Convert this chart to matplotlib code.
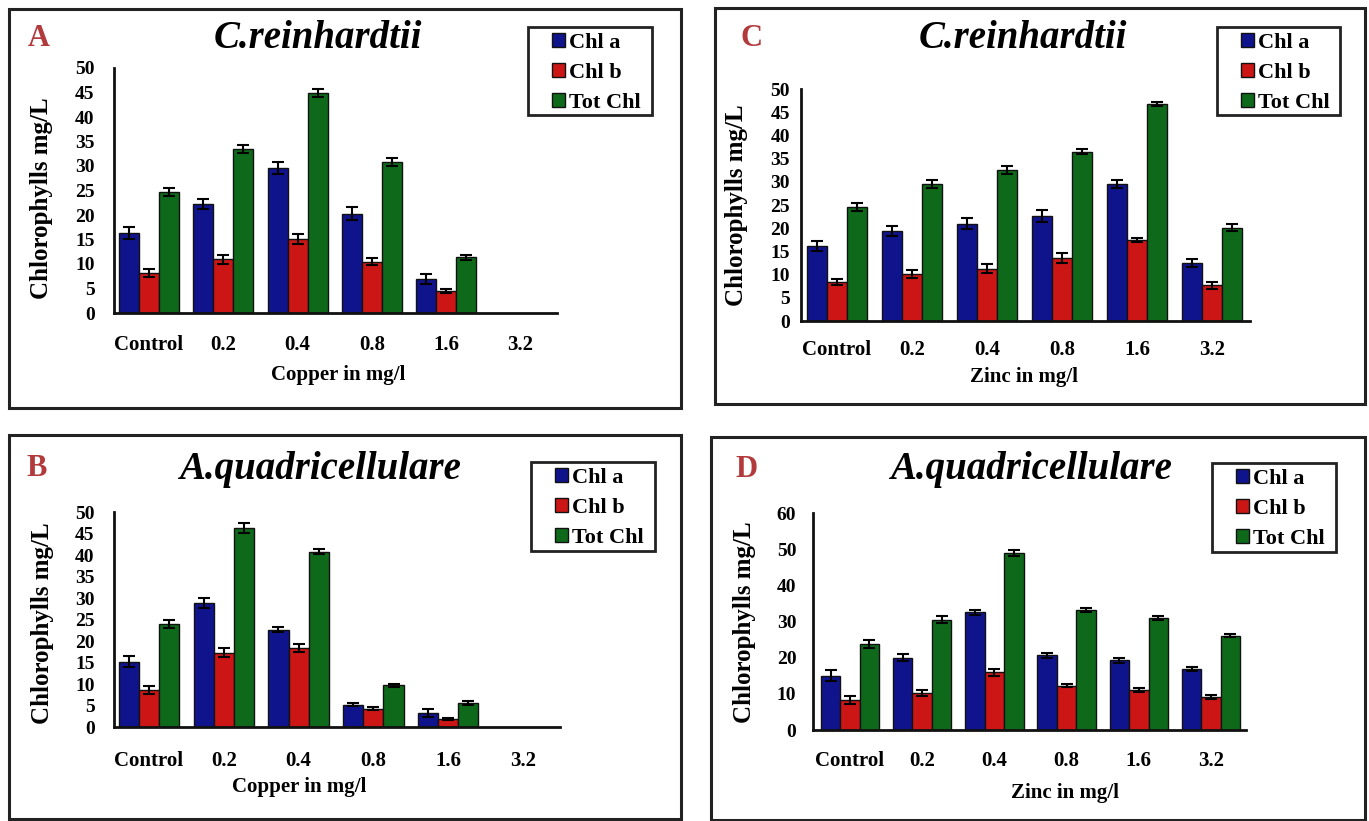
import matplotlib
matplotlib.use("Agg")
from matplotlib import pyplot as plt
from matplotlib.patches import Rectangle
import numpy as np

plt.rcParams['font.family'] = ['Liberation Serif', 'DejaVu Serif']
plt.rcParams['font.weight'] = 'bold'

categories = ['Control', '0.2', '0.4', '0.8', '1.6', '3.2']
series_names = ['Chl a', 'Chl b', 'Tot Chl']
colors = ['#10148c', '#cc1616', '#0e6a1a']

# A: C.reinhardtii, copper
a_chla = [16.3, 22.3, 29.6, 20.3, 6.9, 0]
a_chlb = [8.2, 11.0, 15.1, 10.5, 4.4, 0]
a_tot = [24.7, 33.5, 44.9, 30.8, 11.4, 0]
a_err = [[1.2, 1.0, 1.2, 1.3, 1.0, 0], [0.8, 0.9, 1.0, 0.8, 0.4, 0], [0.8, 0.8, 0.9, 0.8, 0.5, 0]]

# C: C.reinhardtii, zinc
c_chla = [16.1, 19.4, 21.0, 22.7, 29.5, 12.5]
c_chlb = [8.4, 10.1, 11.3, 13.6, 17.4, 7.7]
c_tot = [24.6, 29.5, 32.6, 36.5, 46.8, 20.1]
c_err = [[1.1, 1.1, 1.1, 1.3, 0.9, 0.8], [0.6, 0.8, 0.9, 1.0, 0.4, 0.7], [0.8, 0.8, 0.9, 0.6, 0.4, 0.8]]

# B: A.quadricellulare, copper
b_chla = [15.2, 28.9, 22.6, 5.2, 3.3, 0]
b_chlb = [8.6, 17.3, 18.3, 4.3, 1.9, 0]
b_tot = [24.0, 46.3, 40.8, 9.7, 5.6, 0]
b_err = [[1.2, 1.2, 0.6, 0.3, 1.0, 0], [1.0, 1.0, 0.9, 0.4, 0.3, 0], [1.0, 1.2, 0.6, 0.4, 0.5, 0]]

# D: A.quadricellulare, zinc
d_chla = [15.0, 20.0, 32.6, 20.6, 19.3, 16.8]
d_chlb = [8.3, 10.2, 16.0, 12.2, 11.1, 9.2]
d_tot = [23.8, 30.5, 48.9, 33.2, 30.9, 26.1]
d_err = [[1.5, 1.0, 0.7, 0.6, 0.7, 0.6], [1.0, 0.9, 1.0, 0.4, 0.6, 0.6], [1.0, 1.0, 0.9, 0.6, 0.6, 0.5]]

W, H = 1369, 821
fig = plt.figure(figsize=(W / 100, H / 100), dpi=100)


def fx(x):
    return x / W


def fy(y):
    return 1 - y / H


def frame(x0, y0, x1, y1, lw):
    fig.patches.append(Rectangle((fx(x0), fy(y1)), fx(x1 - x0), (y1 - y0) / H,
                                 transform=fig.transFigure, fill=False, edgecolor='#222222', linewidth=lw))


panels = [
    dict(letter='A', title='C.reinhardtii', xlabel='Copper in mg/l', data=[a_chla, a_chlb, a_tot], err=a_err,
         ax=(114, 557, 313, 68), ymax=50, ystep=5, box=(9, 9, 681, 408), lpos=(39, 38), tpos=(318, 38),
         ylpos=(42, 198), xlpos=(338, 375), leg=(528, 27, 652, 115), xpad=16, ypad=14, off=35, pitch=74.3),
    dict(letter='C', title='C.reinhardtii', xlabel='Zinc in mg/l', data=[c_chla, c_chlb, c_tot], err=c_err,
         ax=(801, 1250, 321, 89), ymax=50, ystep=5, box=(715, 8, 1365, 404), lpos=(752, 39), tpos=(1023, 39),
         ylpos=(736, 205), xlpos=(1024, 377), leg=(1217, 27, 1340, 115), xpad=14, ypad=8, off=36, pitch=75),
    dict(letter='B', title='A.quadricellulare', xlabel='Copper in mg/l', data=[b_chla, b_chlb, b_tot], err=b_err,
         ax=(114, 560, 727, 512), ymax=50, ystep=5, box=(9, 435, 681, 819), lpos=(37, 468), tpos=(320, 469),
         ylpos=(43, 623), xlpos=(299, 787), leg=(531, 462, 655, 551), xpad=17, ypad=14, off=35, pitch=74.8),
    dict(letter='D', title='A.quadricellulare', xlabel='Zinc in mg/l', data=[d_chla, d_chlb, d_tot], err=d_err,
         ax=(813, 1246, 730, 513), ymax=60, ystep=10, box=(711, 437, 1365, 820), lpos=(746, 469), tpos=(1031, 469),
         ylpos=(745, 622), xlpos=(1065, 793), leg=(1212, 463, 1336, 552), xpad=15, ypad=12, off=37, pitch=72.2),
]

bw = 0.27
x = np.arange(len(categories))

for p in panels:
    frame(*p['box'], 2.2)
    left, right, bottom, top = p['ax']
    ax = fig.add_axes([fx(left), fy(bottom), fx(right - left), (bottom - top) / H])
    for i, vals in enumerate(p['data']):
        v = np.array(vals, dtype=float)
        e = np.array(p['err'][i], dtype=float)
        v[v == 0] = np.nan  # no bar drawn where the value is zero
        e[np.isnan(v)] = np.nan
        ax.bar(x + (i - 1) * bw, v, bw, color=colors[i], edgecolor='#111111', linewidth=1,
               yerr=e, capsize=4, error_kw=dict(ecolor='black', elinewidth=1.5, capthick=1.5),
               label=series_names[i])
    off = p['off'] / p['pitch']
    ax.set_xlim(-off, -off + (right - left) / p['pitch'])
    ax.set_ylim(0, p['ymax'])
    ax.set_yticks(np.arange(0, p['ymax'] + 1, p['ystep']))
    ax.set_xticks(x)
    ax.set_xticklabels(categories, fontsize=15, fontweight='bold')
    ax.tick_params(axis='x', length=0, pad=p['xpad'])
    ax.tick_params(axis='y', length=0, pad=p['ypad'], labelsize=14)
    for lab in ax.get_yticklabels():
        lab.set_fontweight('bold')
    for s in ['top', 'right']:
        ax.spines[s].set_visible(False)
    for s in ['left', 'bottom']:
        ax.spines[s].set_linewidth(2)
        ax.spines[s].set_color('#111111')
    ax.patch.set_alpha(0)

    fig.text(fx(p['lpos'][0]), fy(p['lpos'][1]), p['letter'], color='#b23a3c', fontsize=22,
             fontweight='bold', ha='center', va='center')
    fig.text(fx(p['tpos'][0]), fy(p['tpos'][1]), p['title'], fontsize=28, fontweight='bold',
             fontstyle='italic', ha='center', va='center')
    fig.text(fx(p['ylpos'][0]), fy(p['ylpos'][1]), 'Chlorophylls mg/L', fontsize=18, fontweight='bold',
             rotation=90, ha='center', va='center')
    fig.text(fx(p['xlpos'][0]), fy(p['xlpos'][1]), p['xlabel'], fontsize=15, fontweight='bold',
             ha='center', va='center')

    lx0, ly0, lx1, ly1 = p['leg']
    frame(lx0, ly0, lx1, ly1, 2)
    ax.legend(loc='upper left', bbox_to_anchor=(fx(lx0 + 24), fy(ly0 + 6)),
              bbox_transform=fig.transFigure, prop=dict(size=16, weight='bold'),
              handlelength=0.6, handleheight=0.6, handletextpad=0.15, labelspacing=0.45,
              borderpad=0, borderaxespad=0, frameon=False)

plt.savefig('out.png', dpi=100)
